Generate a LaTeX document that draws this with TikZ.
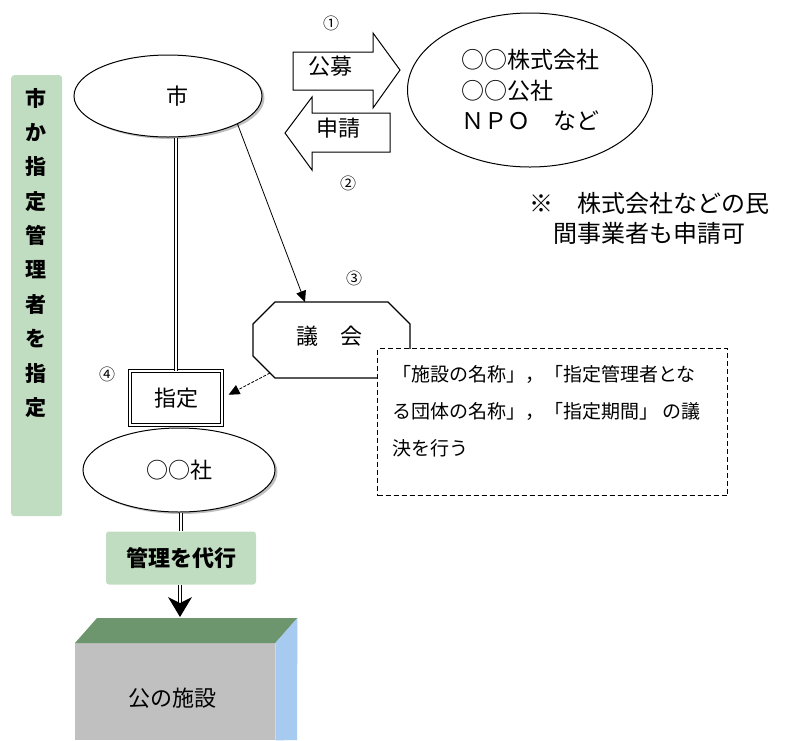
\documentclass[tikz,border=0pt]{standalone}
\usepackage{fontspec}
\newfontfamily\cjk{Noto Sans CJK JP}
\usetikzlibrary{arrows.meta,shadows,calc,shapes.geometric}
\newcommand\jfs[2]{\fontsize{#1pt}{#2pt}\selectfont}
\definecolor{grn}{RGB}{193,221,193}
\definecolor{topgrn}{RGB}{110,150,110}
\definecolor{facegray}{RGB}{192,192,192}
\definecolor{sideblue}{RGB}{166,202,240}
\begin{document}
\begin{tikzpicture}[x=1pt,y=-1pt,
  every node/.style={font=\cjk\jfs{22}{26}},
  ell/.style={ellipse, draw, line width=1pt, fill=white, inner sep=0pt},
  shad/.style={drop shadow={shadow xshift=2.5pt, shadow yshift=-2pt, opacity=0.5, fill=gray}},
  dbl/.style={double, double distance=2pt, line width=0.8pt},
  blk/.style={draw, line width=1pt, fill=white},
  tarrow/.style={-{Triangle[length=11pt,width=10pt]}, line width=0.8pt},
  circnum/.style={font=\cjk\jfs{16}{18}},
  bartext/.style={font=\cjk\bfseries\jfs{21}{24}},
  notetext/.style={font=\cjk\jfs{19}{22}, anchor=west, inner sep=0pt},
]
\useasboundingbox (0,0) rectangle (785,740);

% left green bar
\node[fill=grn, rounded corners=3pt, minimum width=51pt, minimum height=441pt,
      anchor=north west, inner sep=0pt] (bar) at (11,75) {};
\foreach \c [count=\i] in {市,か,指,定,管,理,者,を,指,定}
  \node[bartext] (v\i) at (36,{98+34.4*(\i-1)}) {\c};

% city ellipse
\node[ell, shad, minimum width=188pt, minimum height=82pt] (shi) at (168,96) {\hspace{18pt}市};

% block arrows
\draw[blk] (293,52) -- (373,52) -- (373,33) -- (400,70) -- (373,108) -- (373,90) -- (293,90) -- cycle;
\node (kobo) at (330,66) {公募};
\draw[blk] (285,133) -- (312,97) -- (312,113) -- (390,113) -- (390,152) -- (312,152) -- (312,170) -- cycle;
\node (shinsei) at (338,128) {申請};
\node[circnum] (c1) at (331,23) {①};
\node[circnum] (c2) at (348,183) {②};

% companies ellipse
\node[ell, minimum width=245pt, minimum height=154pt, align=left,
      font=\cjk\jfs{23}{30.5}] (corp) at (530,90) {○○株式会社\\○○公社\\ＮＰＯ　など};

% note
\node[anchor=west, inner sep=0pt, font=\cjk\jfs{24}{28}] (nt1) at (529,203) {※　株式会社などの民};
\node[anchor=west, inner sep=0pt, font=\cjk\jfs{24}{28}] (nt2) at (553,233) {間事業者も申請可};

% council octagon
\draw[line width=1.2pt, fill=white] (275,302) -- (388,302) -- (410,324) -- (410,356)
  -- (388,378) -- (275,378) -- (253,356) -- (253,324) -- cycle;
\node (gikai) at (329,336) {議　会};
\coordinate (gkTop) at (305,302);
\coordinate (gkOut) at (270,373);
\node[circnum] (c3) at (354,278) {③};

% dashed note box
\node[draw, dash pattern=on 5pt off 3pt, fill=white, line width=1pt, minimum width=350pt,
      minimum height=147pt, anchor=north west, inner sep=0pt] (note) at (377,348) {};
\node[notetext] (l1) at (392,374) {「施設の名称」，「指定管理者とな};
\node[notetext] (l2) at (392,411) {る団体の名称」，「指定期間」 の議};
\node[notetext] (l3) at (392,448) {決を行う};

% designation box
\node[draw, dbl, fill=white, minimum width=92pt, minimum height=54pt] (shitei) at (176,398) {指定};
\node[circnum] (c4) at (107,374) {④};

% connectors
\draw[dbl] (shi.south -| shitei.north) -- (shitei.north);
\draw[tarrow] (shi.-22) -- (gkTop);
\draw[tarrow, dash pattern=on 3pt off 1.5pt, shorten >=7pt] (gkOut) -- (shitei.east);

% company ellipse
\node[ell, shad, minimum width=192pt, minimum height=84pt] (sha) at (179,470) {○○社};

% manage box
\node[fill=grn, rounded corners=3pt, minimum width=150pt, minimum height=53pt,
      font=\cjk\bfseries\jfs{22}{26}] (dk) at (181,558) {管理を代行};
\draw[dbl] (sha.south -| dk.north) -- (dk.north);

% facility box
\node[fill=facegray, minimum width=200pt, minimum height=97pt, anchor=north west, inner sep=0pt] (fac) at (75,643) {};
\fill[topgrn] (fac.north west) -- (fac.north east) -- ++(22,-25) -- ($(fac.north west)+(22,-25)$) -- cycle;
\fill[sideblue] (fac.north east) -- ++(22,-25) -- (297,740) -- (fac.south east) -- cycle;
\node (factxt) at (172,698) {公の施設};

% double arrow to facility
\coordinate (tip) at (180,617);
\draw[dbl, shorten >=14pt] (dk.south -| tip) -- (tip);
\fill (tip) -- ++(-12,-20) -- ++(12,6) -- ++(12,-6) -- cycle;
\end{tikzpicture}
\end{document}
